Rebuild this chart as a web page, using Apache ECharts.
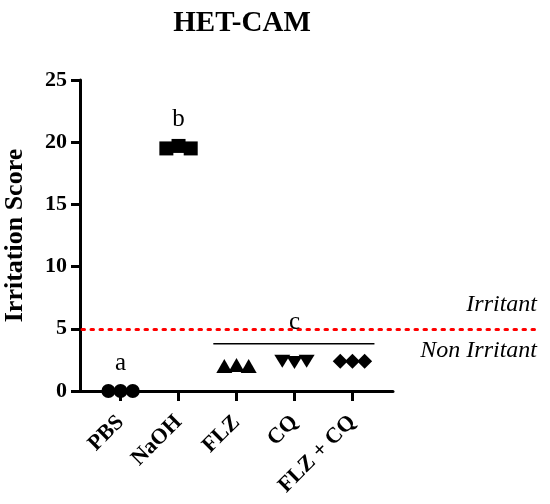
<!DOCTYPE html>
<html>
<head>
<meta charset="utf-8">
<script src="https://cdn.jsdelivr.net/npm/echarts@6/dist/echarts.min.js"></script>
<style>
html,body{margin:0;padding:0;background:#fff;}
#c{width:550px;height:504px;}
</style>
</head>
<body>
<div id="c"></div>
<script>
// ---- data ----
var categories = ['PBS', 'NaOH', 'FLZ', 'CQ', 'FLZ + CQ'];
var jitter = [-0.21, 0, 0.21];
var valsPBS = [0, 0, 0];
var valsNaOH = [19.5, 19.7, 19.5];
var valsFLZ = [2.0, 2.1, 2.0];
var valsCQ = [2.4, 2.3, 2.4];
var valsFLZCQ = [2.4, 2.4, 2.4];
var symbols = ['circle', 'rect', 'triangle', 'path://M0,0 L10,0 L5,9 Z', 'diamond'];
var threshold = 5;
var yTicks = [0, 5, 10, 15, 20, 25];
var letterLabels = ['a', 'b', 'c'];
var letterPos = [[0, 2.2], [1, 21.8], [3, 5.55]];
var groupLine = [[1.6, 3.8], [4.38, 3.8]];
var zoneLabels = ['Irritant', 'Non Irritant'];

var allVals = [valsPBS, valsNaOH, valsFLZ, valsCQ, valsFLZCQ];
var serif = 'Liberation Serif';
var sizes = [14, 14, [16, 14], [16, 13], 15];

var series = [];
allVals.forEach(function (vals, ci) {
  series.push({
    type: 'scatter',
    name: categories[ci],
    xAxisIndex: 0, yAxisIndex: 0,
    symbol: symbols[ci],
    symbolSize: sizes[ci],
    itemStyle: { color: '#000', opacity: 1 },
    z: 5,
    data: vals.map(function (v, k) { return [ci + jitter[k], v]; })
  });
});
// significance group line
series.push({
  type: 'line', xAxisIndex: 0, yAxisIndex: 0,
  data: groupLine, symbol: 'none',
  lineStyle: { color: '#000', width: 1.5 }, z: 4
});
// letters
series.push({
  type: 'scatter', xAxisIndex: 0, yAxisIndex: 0,
  symbolSize: 0,
  itemStyle: { color: '#000', opacity: 1 },
  data: letterPos.map(function (p, i) { return { value: p, name: letterLabels[i] }; }),
  label: {
    show: true, position: 'inside', formatter: '{b}',
    fontFamily: serif, fontSize: 25, color: '#000', opacity: 1
  },
  z: 6
});
// threshold line on wide grid
series.push({
  type: 'line', xAxisIndex: 1, yAxisIndex: 1,
  data: [], symbol: 'none',
  markLine: {
    silent: true, symbol: 'none', label: { show: false },
    lineStyle: { color: '#ff0000', width: 3, type: [2.5, 6.5], cap: 'round' },
    data: [{ yAxis: threshold }]
  }
});

var chart = echarts.init(document.getElementById('c'));
chart.setOption({
  animation: false,
  backgroundColor: '#fff',
  title: {
    text: 'HET-CAM', left: 237, top: 4, textAlign: 'center',
    textStyle: { fontFamily: serif, fontWeight: 'bold', fontSize: 29, color: '#000' }
  },
  grid: [
    { left: 80, top: 80, width: 313, height: 311, containLabel: false, outerBoundsMode: 'none' },
    { left: 82, top: 80, right: 10, height: 311, containLabel: false, outerBoundsMode: 'none' }
  ],
  xAxis: [{
    type: 'value', gridIndex: 0, min: -0.7, max: 4.7,
    splitLine: { show: false },
    axisLine: { show: true, onZero: false, lineStyle: { color: '#000', width: 3 } },
    axisTick: { show: true, length: 10, lineStyle: { color: '#000', width: 3 }, customValues: [0, 1, 2, 3, 4] },
    axisLabel: {
      customValues: [0, 1, 2, 3, 4], rotate: 45, margin: 28,
      formatter: function (v) { return categories[Math.round(v)]; },
      fontFamily: serif, fontWeight: 'bold', fontSize: 22, color: '#000'
    }
  }, {
    type: 'value', gridIndex: 1, min: 0, max: 1, show: false
  }],
  yAxis: [{
    type: 'value', gridIndex: 0, min: yTicks[0], max: yTicks[yTicks.length - 1], interval: 5,
    name: 'Irritation Score', nameLocation: 'middle', nameGap: 52, nameRotate: 90,
    nameTextStyle: { fontFamily: serif, fontWeight: 'bold', fontSize: 26, color: '#000' },
    splitLine: { show: false },
    axisLine: { show: true, onZero: false, lineStyle: { color: '#000', width: 3 } },
    axisTick: { show: true, length: 9, lineStyle: { color: '#000', width: 3 } },
    axisLabel: { fontFamily: serif, fontWeight: 'bold', fontSize: 22, color: '#000', margin: 13 }
  }, {
    type: 'value', gridIndex: 1, min: 0, max: 25, show: false
  }],
  graphic: [
    { type: 'text', right: 13, top: 293,
      style: { text: zoneLabels[0], font: 'italic 24px "Liberation Serif"', fill: '#000' } },
    { type: 'text', right: 13, top: 339,
      style: { text: zoneLabels[1], font: 'italic 24px "Liberation Serif"', fill: '#000' } }
  ],
  series: series
});
</script>
</body>
</html>
